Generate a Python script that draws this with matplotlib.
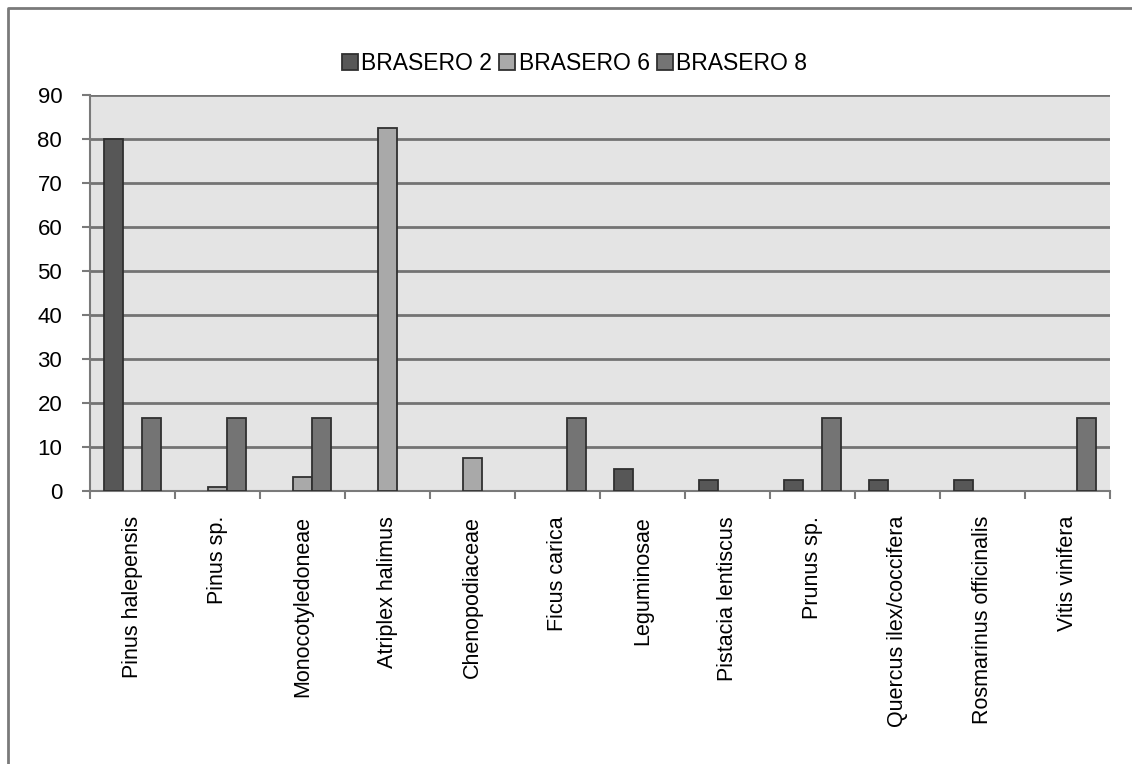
import numpy as np
import matplotlib.pyplot as plt
from matplotlib.lines import Line2D

plt.rcParams['font.family'] = ['Liberation Sans', 'DejaVu Sans']

taxa = ['Pinus halepensis', 'Pinus sp.', 'Monocotyledoneae', 'Atriplex halimus',
        'Chenopodiaceae', 'Ficus carica', 'Leguminosae', 'Pistacia lentiscus',
        'Prunus sp.', 'Quercus ilex/coccifera', 'Rosmarinus officinalis',
        'Vitis vinifera']
brasero2 = [80, 0, 0, 0, 0, 0, 5, 2.5, 2.5, 2.5, 2.5, 0]
brasero6 = [0, 0.9, 3.3, 82.5, 7.5, 0, 0, 0, 0, 0, 0, 0]
brasero8 = [16.7, 16.7, 16.7, 0, 0, 16.7, 0, 0, 16.7, 0, 0, 16.7]
series_names = ['BRASERO 2', 'BRASERO 6', 'BRASERO 8']
colors = ['#575757', '#a9a9a9', '#747474']

fig = plt.figure(figsize=[11.32, 7.64], dpi=100)
ax = fig.add_axes([0.0795, 0.3573, 0.9011, 0.5184])

# outer chart frame: only the left and top edges are inside the canvas
fx, fy = 8 / 1132, 1 - 8 / 764
fig.lines.append(Line2D([fx, fx, 1.1], [-0.1, fy, fy], transform=fig.transFigure,
                        color='#7a7a7a', linewidth=2, solid_capstyle='butt'))

x = np.arange(len(taxa))
w = 1 / 4.5
for i, (vals, name, c) in enumerate(zip([brasero2, brasero6, brasero8], series_names, colors)):
    vals = np.array(vals, dtype=float)
    pos = x + (i - 1) * w
    shown = vals > 0
    ax.bar(pos[shown], vals[shown], width=w, color=c, edgecolor='#303030',
           linewidth=1.3, zorder=3, label=name)

ax.set_facecolor('#e4e4e4')
ax.set_xlim(-0.5, len(taxa) - 0.5)
ax.set_ylim(0, 90)
ax.set_yticks(range(0, 91, 10))
ax.yaxis.grid(True, color='#737373', linewidth=2)
ax.set_axisbelow(True)

ax.set_xticks(np.arange(-0.5, len(taxa), 1.0))
ax.set_xticklabels([])
ax.set_xticks(x, minor=True)
ax.set_xticklabels(taxa, minor=True, rotation=90, fontsize=15.5)
ax.tick_params(axis='x', which='major', length=6, width=1.5, color='#7a7a7a', direction='out')
ax.tick_params(axis='x', which='minor', length=0, pad=18)
ax.tick_params(axis='y', length=6, width=1.5, color='#7a7a7a', labelsize=16, pad=14)

for side in ['top', 'right']:
    ax.spines[side].set_visible(False)
for side in ['left', 'bottom']:
    ax.spines[side].set_color('#7a7a7a')
    ax.spines[side].set_linewidth(1.5)

ax.legend(loc='lower center', bbox_to_anchor=(0.475, 1.01), ncol=3, frameon=False,
          fontsize=16.5, handlelength=0.7, handleheight=0.7, handletextpad=0.15,
          columnspacing=0.3, borderaxespad=0.3)

fig.savefig('out.png', dpi=100, facecolor='white')
